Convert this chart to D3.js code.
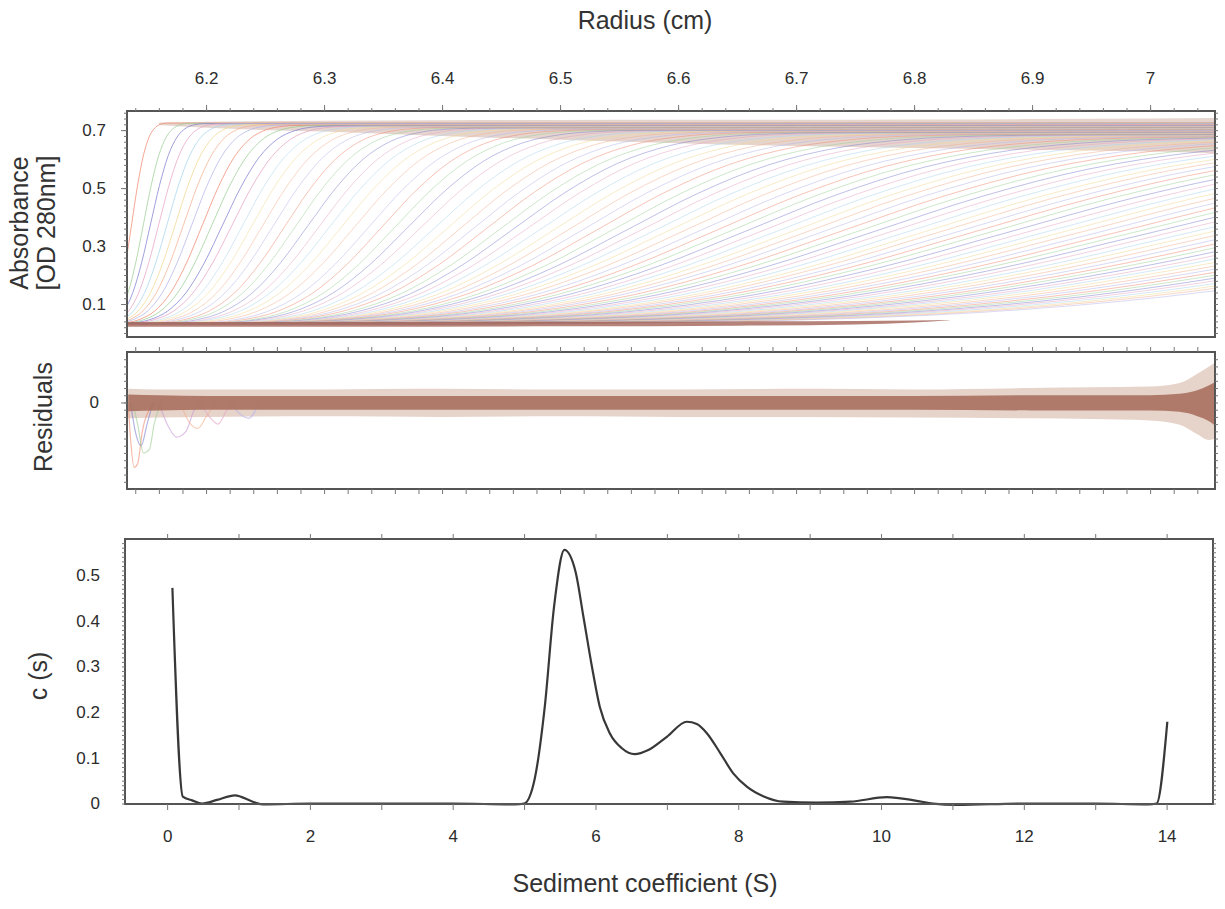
<!DOCTYPE html>
<head>
<meta charset="utf-8">
<script src="https://d3js.org/d3.v7.min.js"></script>
<style>
  body{ margin:0; background:#fff; }
  text{ font-family: "Liberation Sans", Arial, sans-serif; fill:#333; }
  text.axisTitle{ font-size:25px; }
  rect.frame{ fill:none; stroke:#555; stroke-width:2; }
</style>
<title>Sedimentation velocity</title>
</head>
<body>
<script>
const width = 1225, height = 909;

// ---- top panel: scans (boundary midpoint, spread, plateau)
const scanMid = [
  6.137, 6.147, 6.153, 6.160, 6.167, 6.174, 6.181, 6.188, 6.197, 6.205,
  6.214, 6.222, 6.231, 6.239, 6.248, 6.257, 6.267, 6.276, 6.286, 6.296,
  6.305, 6.315, 6.326, 6.338, 6.349, 6.360,
  6.371, 6.382, 6.394, 6.405, 6.416, 6.427, 6.438, 6.450, 6.461, 6.472,
  6.484, 6.496, 6.508, 6.520, 6.532, 6.545, 6.557, 6.569, 6.581, 6.593,
  6.606, 6.619, 6.632, 6.645, 6.658, 6.671, 6.684, 6.697, 6.710, 6.723,
  6.737, 6.751, 6.765, 6.779, 6.793, 6.807, 6.820, 6.834, 6.848, 6.862,
  6.877, 6.892, 6.907, 6.921, 6.936, 6.951, 6.966, 6.980, 6.995, 7.010,
  7.026, 7.041, 7.057, 7.073, 7.089, 7.104, 7.120, 7.136, 7.151, 7.167,
  7.184, 7.200, 7.217, 7.233, 7.250, 7.266, 7.283, 7.300, 7.316, 7.333
];
const scanSpread = [
  0.010, 0.013, 0.015, 0.017, 0.019, 0.021, 0.023, 0.025, 0.027, 0.029,
  0.031, 0.033, 0.035, 0.037, 0.039, 0.041, 0.043, 0.045, 0.047, 0.049,
  0.051, 0.053, 0.055, 0.057, 0.059, 0.061,
  0.064, 0.067, 0.070, 0.073, 0.076, 0.079, 0.082, 0.085, 0.088, 0.091,
  0.095, 0.099, 0.103, 0.107, 0.111, 0.115, 0.119, 0.123, 0.127, 0.131,
  0.135, 0.139, 0.143, 0.147, 0.151, 0.155, 0.159, 0.163, 0.167, 0.171,
  0.175, 0.179, 0.183, 0.187, 0.191, 0.195, 0.199, 0.203, 0.207, 0.211,
  0.215, 0.219, 0.223, 0.227, 0.231, 0.235, 0.239, 0.243, 0.247, 0.251,
  0.255, 0.259, 0.263, 0.267, 0.271, 0.275, 0.279, 0.283, 0.287, 0.291,
  0.294, 0.297, 0.300, 0.303, 0.306, 0.309, 0.312, 0.315, 0.318, 0.320
];
const scanPlateau = [
  0.725, 0.724, 0.723, 0.722, 0.721, 0.720, 0.719, 0.718, 0.717, 0.716,
  0.715, 0.714, 0.713, 0.712, 0.711, 0.710, 0.709, 0.708, 0.707, 0.706,
  0.705, 0.704, 0.703, 0.702, 0.701, 0.700,
  0.699, 0.698, 0.697, 0.696, 0.695, 0.694, 0.693, 0.692, 0.691, 0.690,
  0.689, 0.688, 0.687, 0.686, 0.685, 0.684, 0.683, 0.682, 0.681, 0.680,
  0.679, 0.678, 0.677, 0.676, 0.675, 0.674, 0.673, 0.672, 0.671, 0.670,
  0.669, 0.668, 0.667, 0.666, 0.665, 0.664, 0.663, 0.662, 0.661, 0.660,
  0.659, 0.658, 0.657, 0.656, 0.655, 0.654, 0.653, 0.652, 0.651, 0.650,
  0.649, 0.648, 0.647, 0.646, 0.645, 0.644, 0.643, 0.642, 0.641, 0.640,
  0.639, 0.638, 0.637, 0.636, 0.635, 0.634, 0.633, 0.632, 0.631, 0.630
];
const scanBase = 0.03;
// normalised boundary shape (position in spreads, fraction of plateau)
const profileU = [-3, -2.5, -2, -1.5, -1, -0.5, 0, 0.5, 1, 1.5, 2, 2.5, 3];
const profileF = [0.001, 0.006, 0.023, 0.067, 0.159, 0.309, 0.5, 0.691, 0.841, 0.933, 0.977, 0.994, 0.999];
const scanColours = ['#f08a70', '#9ccf95', '#8080d0', '#e6a4c4', '#a8d4ee', '#f0d890', '#f4b090', '#b4b4ea'];

// noise-thickened plateau band and baseline band
const plateauR   = [6.16, 6.2, 6.3, 6.4, 6.5, 6.6, 6.7, 6.8, 6.9, 7.0, 7.055];
const plateauTop = [0.726, 0.729, 0.732, 0.734, 0.735, 0.736, 0.736, 0.737, 0.738, 0.740, 0.742];
const plateauBot = [0.718, 0.708, 0.695, 0.680, 0.667, 0.655, 0.645, 0.638, 0.632, 0.626, 0.620];
const baseR      = [6.133, 6.3, 6.5, 6.65, 6.75, 6.8, 6.83];
const baseTop    = [0.038, 0.038, 0.039, 0.040, 0.041, 0.043, 0.045];
const baseBot    = [0.022, 0.022, 0.023, 0.025, 0.029, 0.036, 0.044];

// ---- residual panel: envelope of residual band, and dips near the meniscus
const resR       = [6.134, 6.16, 6.2, 6.3, 6.4, 6.5, 6.6, 6.7, 6.8, 6.9, 6.95, 7.0, 7.025, 7.04, 7.05, 7.055];
const resCoreHi  = [0.011, 0.010, 0.009, 0.009, 0.009, 0.009, 0.009, 0.009, 0.009, 0.010, 0.010, 0.010, 0.012, 0.017, 0.024, 0.028];
const resCoreLo  = [-0.012, -0.011, -0.010, -0.010, -0.010, -0.010, -0.010, -0.010, -0.010, -0.011, -0.011, -0.011, -0.013, -0.019, -0.026, -0.032];
const resOuterHi = [0.019, 0.018, 0.018, 0.018, 0.019, 0.018, 0.018, 0.019, 0.018, 0.020, 0.021, 0.022, 0.027, 0.040, 0.050, 0.055];
const resOuterLo = [-0.022, -0.021, -0.020, -0.019, -0.020, -0.019, -0.020, -0.020, -0.021, -0.022, -0.023, -0.025, -0.031, -0.044, -0.052, -0.050];
const resDips = [
  { colour: '#f08a70', pts: [[6.134, 0], [6.136, -0.05], [6.139, -0.09], [6.142, -0.085], [6.146, -0.04], [6.152, -0.01], [6.16, 0]] },
  { colour: '#9ccf95', pts: [[6.138, 0], [6.142, -0.03], [6.147, -0.07], [6.152, -0.065], [6.156, -0.03], [6.162, 0]] },
  { colour: '#8080d0', pts: [[6.136, 0], [6.14, -0.04], [6.145, -0.06], [6.15, -0.03], [6.155, 0]] },
  { colour: '#c89ad6', pts: [[6.16, 0], [6.167, -0.03], [6.175, -0.048], [6.183, -0.04], [6.19, -0.01], [6.196, 0]] },
  { colour: '#f4b090', pts: [[6.178, 0], [6.186, -0.028], [6.193, -0.036], [6.2, -0.02], [6.208, 0]] },
  { colour: '#e6a4c4', pts: [[6.195, 0], [6.203, -0.02], [6.21, -0.03], [6.218, -0.01], [6.225, 0]] },
  { colour: '#b4b4ea', pts: [[6.22, 0], [6.228, -0.015], [6.236, -0.022], [6.245, 0]] }
];

// ---- bottom panel: c(s) distribution
const csS = [0.074, 0.22, 0.35, 0.49, 0.7, 0.95, 1.2, 1.35, 2, 3, 4, 4.87, 5.0, 5.15, 5.29, 5.42, 5.565, 5.72, 5.83, 5.95,
             6.06, 6.20, 6.37, 6.55, 6.74, 7.0, 7.28, 7.42, 7.56, 7.75, 7.93, 8.12, 8.35, 8.63, 9.1, 9.57, 10.08, 10.5, 10.73, 11.06,
             12, 13, 13.74, 13.86, 14.01];
const csC = [0.472, 0.015, 0.007, 0.0, 0.008, 0.018, 0.004, -0.002, 0, 0, 0, -0.002, 0.0, 0.055, 0.212, 0.431, 0.555, 0.508, 0.41, 0.30,
             0.212, 0.154, 0.121, 0.108, 0.117, 0.146, 0.179, 0.174, 0.154, 0.11, 0.066, 0.037, 0.016, 0.004, 0.002, 0.004, 0.014, 0.006, 0.0, -0.003,
             0, 0, -0.002, 0.0, 0.179];

// ---- ticks
const radiusMajor = [6.2, 6.3, 6.4, 6.5, 6.6, 6.7, 6.8, 6.9, 7.0];
const absLabels   = [0.1, 0.3, 0.5, 0.7];
const csLabels    = [0, 0.1, 0.2, 0.3, 0.4, 0.5];
const sLabels     = [0, 2, 4, 6, 8, 10, 12, 14];

const svg = d3.select('body').append('svg')
  .attr('width', width)
  .attr('height', height);

const xR = d3.scaleLinear().domain([6.133, 7.055]).range([127, 1215]);
const yA = d3.scaleLinear().domain([-0.0138, 0.766]).range([337, 111]);
const yRes = d3.scaleLinear().domain([-0.12, 0.07]).range([489, 352]);
const xS = d3.scaleLinear().domain([-0.59, 14.65]).range([125, 1213]);
const yC = d3.scaleLinear().domain([-0.001, 0.579]).range([804, 539]);

function styleAxis(g){
  g.select('.domain').remove();
  g.attr('color', '#777')
   .attr('font-size', 17)
   .attr('font-family', '"Liberation Sans", Arial, sans-serif');
  g.selectAll('text').style('fill', '#2c2c2c');
}
function range(a, b, step){
  const out = [];
  for (let v = a; v <= b + step/1000; v += step) out.push(+v.toFixed(4));
  return out;
}

// ===== top panel
const defs = svg.append('defs');
defs.append('clipPath').attr('id', 'clipTop').append('rect')
  .attr('x', 127).attr('y', 111).attr('width', 1215-127).attr('height', 337-111);
defs.append('clipPath').attr('id', 'clipRes').append('rect')
  .attr('x', 127).attr('y', 352).attr('width', 1215-127).attr('height', 489-352);

const topG = svg.append('g').attr('clip-path', 'url(#clipTop)');

const bandTop = d3.area()
  .x((d, i) => xR(d))
  .curve(d3.curveMonotoneX);

topG.append('path')
  .attr('d', bandTop.y0((d, i) => yA(plateauBot[i])).y1((d, i) => yA(plateauTop[i]))(plateauR))
  .attr('fill', '#cfb3a6')
  .attr('opacity', 0.55);

const scanLine = d3.line()
  .x(d => xR(d[0]))
  .y(d => yA(d[1]))
  .curve(d3.curveMonotoneX);

const scans = scanMid.map((m, i) => {
  const s = scanSpread[i], p = scanPlateau[i];
  let pts = profileU.map((u, k) => [m + u*s, scanBase + profileF[k]*(p - scanBase)]);
  if (pts[0][0] > 6.133) pts.unshift([6.12, scanBase]);
  if (pts[pts.length-1][0] < 7.055) pts.push([7.07, p]);
  return { pts, colour: scanColours[i % scanColours.length], i };
});

topG.selectAll('path.scan')
  .data(scans)
  .enter().append('path')
  .attr('class', 'scan')
  .attr('d', d => scanLine(d.pts))
  .attr('fill', 'none')
  .attr('stroke', d => d.colour)
  .attr('stroke-width', 1)
  .attr('stroke-opacity', d => d.i < 12 ? 0.75 : 0.5);

topG.append('path')
  .attr('d', bandTop.y0((d, i) => yA(baseBot[i])).y1((d, i) => yA(baseTop[i]))(baseR))
  .attr('fill', '#9c5a4e')
  .attr('opacity', 0.75);

svg.append('rect').attr('class', 'frame')
  .attr('x', 127).attr('y', 111).attr('width', 1215-127).attr('height', 337-111);

svg.append('g').attr('transform', 'translate(0,111)')
  .call(d3.axisTop(xR).tickValues(range(6.14, 7.04, 0.02)).tickSize(3).tickFormat(''))
  .call(styleAxis);
svg.append('g').attr('transform', 'translate(0,111)')
  .call(d3.axisTop(xR).tickValues(radiusMajor).tickSize(6).tickPadding(21).tickFormat(d3.format('~g')))
  .call(styleAxis);

svg.append('g').attr('transform', 'translate(127,0)')
  .call(d3.axisLeft(yA).tickValues(range(0, 0.76, 0.02)).tickSize(3).tickFormat(''))
  .call(styleAxis);
svg.append('g').attr('transform', 'translate(127,0)')
  .call(d3.axisLeft(yA).tickValues(absLabels).tickSize(6).tickPadding(15).tickFormat(d3.format('.1f')))
  .call(styleAxis);
svg.append('g').attr('transform', 'translate(1215,0)')
  .call(d3.axisRight(yA).tickValues(range(0, 0.76, 0.02)).tickSize(3).tickFormat(''))
  .call(styleAxis);

// ===== residual panel
const resG = svg.append('g').attr('clip-path', 'url(#clipRes)');
const bandArea = (hi, lo) => d3.area()
  .x((d, i) => xR(resR[i]))
  .y0((d, i) => yRes(lo[i]))
  .y1((d, i) => yRes(hi[i]))
  .curve(d3.curveMonotoneX);

resG.append('path')
  .attr('d', bandArea(resOuterHi, resOuterLo)(resR))
  .attr('fill', '#dcc0b4')
  .attr('opacity', 0.7);

const dipLine = d3.line()
  .x(d => xR(d[0]))
  .y(d => yRes(d[1]))
  .curve(d3.curveMonotoneX);
resG.selectAll('path.dip')
  .data(resDips)
  .enter().append('path')
  .attr('class', 'dip')
  .attr('d', d => dipLine(d.pts))
  .attr('fill', 'none')
  .attr('stroke', d => d.colour)
  .attr('stroke-width', 1.2)
  .attr('stroke-opacity', 0.6);

resG.append('path')
  .attr('d', bandArea(resCoreHi, resCoreLo)(resR))
  .attr('fill', '#a8705e')
  .attr('opacity', 0.9);

svg.append('rect').attr('class', 'frame')
  .attr('x', 127).attr('y', 352).attr('width', 1215-127).attr('height', 489-352);

svg.append('g').attr('transform', 'translate(0,352)')
  .call(d3.axisTop(xR).tickValues(range(6.14, 7.04, 0.02)).tickSize(5).tickFormat(''))
  .call(styleAxis);
svg.append('g').attr('transform', 'translate(0,489)')
  .call(d3.axisBottom(xR).tickValues(range(6.14, 7.04, 0.02)).tickSize(5).tickFormat(''))
  .call(styleAxis);
svg.append('g').attr('transform', 'translate(127,0)')
  .call(d3.axisLeft(yRes).tickValues(range(-0.11, 0.06, 0.01)).tickSize(3).tickFormat(''))
  .call(styleAxis);
svg.append('g').attr('transform', 'translate(127,0)')
  .call(d3.axisLeft(yRes).tickValues([0]).tickSize(6).tickPadding(22).tickFormat(d3.format('d')))
  .call(styleAxis);
svg.append('g').attr('transform', 'translate(1215,0)')
  .call(d3.axisRight(yRes).tickValues(range(-0.11, 0.06, 0.01)).tickSize(3).tickFormat(''))
  .call(styleAxis);

// ===== c(s) panel
const csLine = d3.line()
  .x((d, i) => xS(csS[i]))
  .y((d, i) => yC(csC[i]))
  .curve(d3.curveMonotoneX);

svg.append('path')
  .attr('d', csLine(csS))
  .attr('fill', 'none')
  .attr('stroke', '#383838')
  .attr('stroke-width', 2.2)
  .attr('stroke-linejoin', 'round');

svg.append('rect').attr('class', 'frame')
  .attr('x', 125).attr('y', 539).attr('width', 1213-125).attr('height', 804-539);

svg.append('g').attr('transform', 'translate(0,539)')
  .call(d3.axisTop(xS).tickValues(range(0, 14, 1)).tickSize(5).tickFormat(''))
  .call(styleAxis);
svg.append('g').attr('transform', 'translate(0,804)')
  .call(d3.axisBottom(xS).tickValues(range(0, 14, 1)).tickSize(6).tickFormat(''))
  .call(styleAxis);
svg.append('g').attr('transform', 'translate(0,804)')
  .call(d3.axisBottom(xS).tickValues(sLabels).tickSize(0).tickPadding(26).tickFormat(d3.format('d')))
  .call(styleAxis);
svg.append('g').attr('transform', 'translate(125,0)')
  .call(d3.axisLeft(yC).tickValues(range(0, 0.57, 0.01)).tickSize(3).tickFormat(''))
  .call(styleAxis);
svg.append('g').attr('transform', 'translate(125,0)')
  .call(d3.axisLeft(yC).tickValues(csLabels).tickSize(0).tickPadding(25).tickFormat(d3.format('~g')))
  .call(styleAxis);
svg.append('g').attr('transform', 'translate(1213,0)')
  .call(d3.axisRight(yC).tickValues(range(0, 0.57, 0.01)).tickSize(3).tickFormat(''))
  .call(styleAxis);

// ===== titles
svg.append('text').attr('class', 'axisTitle')
  .attr('x', 645).attr('y', 29)
  .style('text-anchor', 'middle')
  .text('Radius (cm)');
svg.append('text').attr('class', 'axisTitle')
  .attr('x', 645).attr('y', 892)
  .style('text-anchor', 'middle')
  .text('Sediment coefficient (S)');

svg.append('text').attr('class', 'axisTitle')
  .attr('transform', 'translate(28,223) rotate(-90)')
  .style('text-anchor', 'middle')
  .text('Absorbance');
svg.append('text').attr('class', 'axisTitle')
  .attr('transform', 'translate(55,223) rotate(-90)')
  .style('text-anchor', 'middle')
  .text('[OD 280nm]');
svg.append('text').attr('class', 'axisTitle')
  .attr('transform', 'translate(52,417) rotate(-90)')
  .style('text-anchor', 'middle')
  .text('Residuals');
svg.append('text').attr('class', 'axisTitle')
  .attr('transform', 'translate(47,676) rotate(-90)')
  .style('text-anchor', 'middle')
  .text('c (s)');
</script>
</body>
